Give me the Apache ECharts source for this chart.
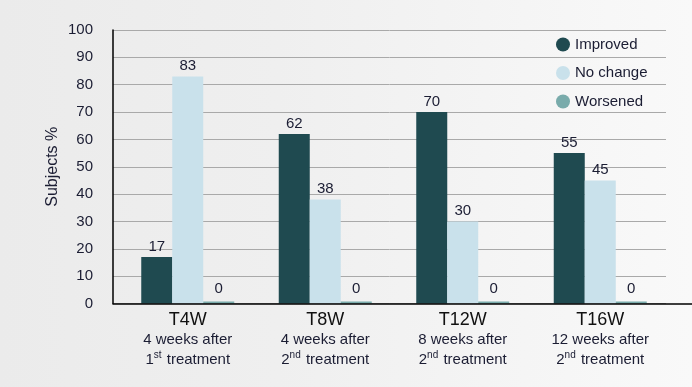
<!DOCTYPE html>
<html>
<head>
<meta charset="utf-8">
<script src="https://cdn.jsdelivr.net/npm/echarts@6/dist/echarts.min.js"></script>
<style>
html,body{margin:0;padding:0;}
body{width:692px;height:387px;background:linear-gradient(to right,#ebebeb 0%,#efefef 40%,#f9f9f9 100%);}
#chart{width:692px;height:387px;}
</style>
</head>
<body>
<div id="chart"></div>
<script>
const categories = ['T4W', 'T8W', 'T12W', 'T16W'];
const subLine1 = ['4 weeks after', '4 weeks after', '8 weeks after', '12 weeks after'];
const ordinalNum = ['1', '2', '2', '2'];
const ordinalSuffix = ['st', 'nd', 'nd', 'nd'];
const seriesNames = ['Improved', 'No change', 'Worsened'];
const improved = [17, 62, 70, 55];
const noChange = [83, 38, 30, 45];
const worsened = [0, 0, 0, 0];
const yMin = 0, yMax = 100, yStep = 10;

const FONT = 'Liberation Sans';
const TXT = '#1b1d33';
const colors = ['#1f4a50', '#c9e1eb', '#79abab'];

const chart = echarts.init(document.getElementById('chart'));

function barSeries(name, data, color, dist) {
  return {
    name: name, type: 'bar', xAxisIndex: 0, yAxisIndex: 0,
    data: data, barWidth: 31, barGap: '0%', barMinHeight: 2,
    itemStyle: { color: color },
    label: { show: true, position: 'top', distance: dist, color: TXT, fontFamily: FONT, fontSize: 15 },
    z: 2
  };
}

const option = {
  animation: false,
  backgroundColor: 'transparent',
  textStyle: { fontFamily: FONT },
  legend: {
    orient: 'vertical', left: 556, top: 37, padding: 0,
    icon: 'circle', itemWidth: 14, itemHeight: 14, itemGap: 13.5,
    textStyle: { color: TXT, fontFamily: FONT, fontSize: 15, lineHeight: 14 },
    data: seriesNames
  },
  grid: [
    { left: 119, right: 23, top: 30, bottom: 83.5 },
    { left: 113, right: 26, top: 30, bottom: 83.5 },
    { left: 113, right: 0, top: 30, bottom: 83.5 }
  ],
  xAxis: [
    {
      gridIndex: 0, type: 'category', data: categories,
      axisLine: { show: false }, axisTick: { show: false },
      axisLabel: {
        margin: 6.5, interval: 0,
        formatter: function (v, i) {
          return '{t|' + v + '}\n{s|' + subLine1[i] + '}\n{s|' + ordinalNum[i] + '}{sup|' + ordinalSuffix[i] + '}{s| treatment}';
        },
        rich: {
          t: { fontSize: 18, lineHeight: 20, color: '#111', fontFamily: FONT },
          s: { fontSize: 15, lineHeight: 20, color: TXT, fontFamily: FONT },
          sup: { fontSize: 10, lineHeight: 20, color: TXT, fontFamily: FONT, verticalAlign: 'top', padding: [0, 1, 0, 0] }
        }
      }
    },
    { gridIndex: 1, type: 'category', data: categories, show: false },
    {
      gridIndex: 2, type: 'value', min: 0, max: 1,
      axisLine: { show: true, lineStyle: { color: '#000', width: 1.5 } },
      axisTick: { show: false }, axisLabel: { show: false }, splitLine: { show: false }, z: 5
    }
  ],
  yAxis: [
    { gridIndex: 0, type: 'value', min: yMin, max: yMax, show: false },
    {
      gridIndex: 1, type: 'value', min: yMin, max: yMax, interval: yStep,
      name: 'Subjects %', nameLocation: 'middle', nameGap: 52, nameRotate: 90,
      nameMoveOverlap: false,
      nameTextStyle: { color: TXT, fontSize: 16, fontFamily: FONT },
      axisLine: { show: true, lineStyle: { color: '#000', width: 1.5 } },
      axisTick: { show: false },
      axisLabel: { margin: 20, color: TXT, fontSize: 15, fontFamily: FONT },
      splitLine: { show: true, lineStyle: { color: '#a9a9a9', width: 1 } },
      z: 1
    },
    { gridIndex: 2, type: 'value', min: yMin, max: yMax, show: false }
  ],
  series: [
    barSeries(seriesNames[0], improved, colors[0], 3),
    barSeries(seriesNames[1], noChange, colors[1], 3),
    barSeries(seriesNames[2], worsened, colors[2], 5)
  ]
};
chart.setOption(option);
</script>
</body>
</html>
